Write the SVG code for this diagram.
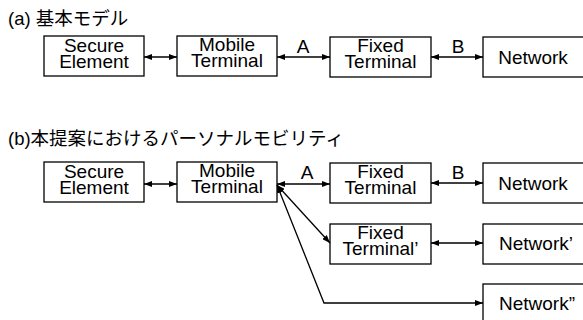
<svg xmlns="http://www.w3.org/2000/svg" width="583" height="320" viewBox="0 0 583 320">
<defs>
<marker id="ah" viewBox="0 0 8 6" refX="8" refY="3" markerWidth="8" markerHeight="6" markerUnits="userSpaceOnUse" orient="auto-start-reverse">
<path d="M0,0 L8,3 L0,6 Z" fill="#000"/>
</marker>
</defs>
<style>
.box{fill:#fff;stroke:#000;stroke-width:1.3}
.t{font-family:"Liberation Sans",Arial,sans-serif;font-size:19px;text-anchor:middle;fill:#000}
.ttl{font-family:"Liberation Sans","Noto Sans CJK JP",sans-serif;font-size:18.5px;fill:#000}
.c{fill:none;stroke:#000;stroke-width:1.3}
</style>
<rect width="583" height="320" fill="#fff"/>
<text class="ttl" x="8" y="25">(a) 基本モデル</text>
<text class="ttl" x="8" y="145">(b)本提案におけるパーソナルモビリティ</text>

<g id="a-se"><rect class="box" x="44" y="36" width="100" height="40"/><text class="t" x="94" y="52">Secure</text><text class="t" x="94" y="68">Element</text></g>
<g id="a-mt"><rect class="box" x="177" y="36" width="100" height="40"/><text class="t" x="227" y="51">Mobile</text><text class="t" x="227" y="67">Terminal</text></g>
<g id="a-ft"><rect class="box" x="330" y="37" width="101" height="40"/><text class="t" x="380.5" y="52">Fixed</text><text class="t" x="380.5" y="68">Terminal</text></g>
<g id="a-nw"><rect class="box" x="483" y="37" width="110" height="40"/><text class="t" x="533" y="64">Network</text></g>

<g id="b-se"><rect class="box" x="44" y="162" width="100" height="40"/><text class="t" x="94" y="178">Secure</text><text class="t" x="94" y="194">Element</text></g>
<g id="b-mt"><rect class="box" x="177" y="162" width="100" height="40"/><text class="t" x="227" y="177">Mobile</text><text class="t" x="227" y="193">Terminal</text></g>
<g id="b-ft"><rect class="box" x="330" y="163" width="101" height="40"/><text class="t" x="380.5" y="178">Fixed</text><text class="t" x="380.5" y="194">Terminal</text></g>
<g id="b-nw"><rect class="box" x="483" y="163" width="110" height="40"/><text class="t" x="533" y="190">Network</text></g>
<g id="b-ft2"><rect class="box" x="330" y="224" width="101" height="40"/><text class="t" x="380.5" y="239">Fixed</text><text class="t" x="380.5" y="255">Terminal’</text></g>
<g id="b-nw2"><rect class="box" x="483" y="224" width="110" height="40"/><text class="t" x="536" y="250">Network’</text></g>
<g id="b-nw3"><rect class="box" x="483" y="284" width="110" height="50"/><text class="t" x="537" y="310">Network”</text></g>

<g id="connectors">
<line class="c" x1="144" y1="57" x2="177" y2="57" marker-start="url(#ah)" marker-end="url(#ah)"/>
<line class="c" x1="277" y1="57" x2="330" y2="57" marker-start="url(#ah)" marker-end="url(#ah)"/>
<line class="c" x1="431" y1="57" x2="483" y2="57" marker-start="url(#ah)" marker-end="url(#ah)"/>
<text class="t" x="303" y="53">A</text>
<text class="t" x="458" y="53">B</text>

<line class="c" x1="144" y1="184" x2="177" y2="184" marker-start="url(#ah)" marker-end="url(#ah)"/>
<line class="c" x1="277" y1="184" x2="330" y2="184" marker-start="url(#ah)" marker-end="url(#ah)"/>
<line class="c" x1="431" y1="183" x2="483" y2="183" marker-start="url(#ah)" marker-end="url(#ah)"/>
<line class="c" x1="277" y1="185" x2="330" y2="243" marker-start="url(#ah)" marker-end="url(#ah)"/>
<line class="c" x1="431" y1="243" x2="483" y2="243" marker-start="url(#ah)" marker-end="url(#ah)"/>
<polyline class="c" points="277,185 324,303 483,303" marker-start="url(#ah)" marker-end="url(#ah)"/>
<text class="t" x="307" y="179">A</text>
<text class="t" x="458" y="179">B</text>
</g>
</svg>
